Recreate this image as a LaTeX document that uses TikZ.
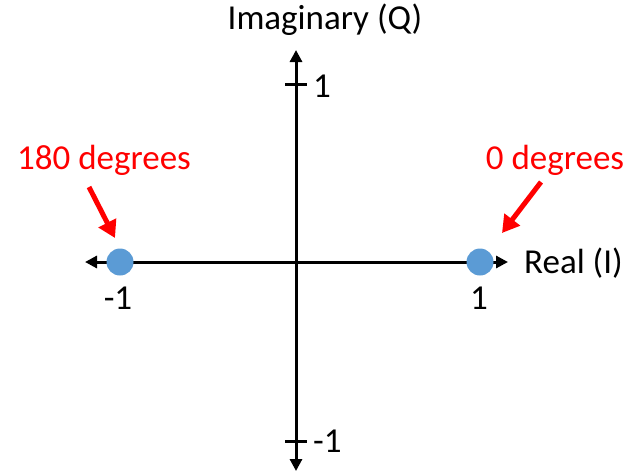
\documentclass[tikz,border=0pt]{standalone}
\usepackage{fontspec}
\setmainfont{Carlito}
\usetikzlibrary{arrows.meta}
\definecolor{dotblue}{HTML}{5B9BD5}
\definecolor{arrred}{HTML}{FF0000}
\begin{document}
\begin{tikzpicture}[x=1pt,y=-1pt,
  axis/.style={line width=3pt,-{Triangle[length=12pt,width=12pt]}},
  tick/.style={line width=3pt},
  lbl/.style={font=\fontsize{35}{40}\selectfont,inner sep=0pt},
  redlbl/.style={lbl,text=arrred},
  redarr/.style={line width=5pt,arrred,-{Triangle[length=17pt,width=19pt]}},
  dot/.style={circle,fill=dotblue,minimum size=27pt,inner sep=0pt}]
\useasboundingbox (0,0) rectangle (628,472);
\coordinate (o) at (296,262);
\coordinate (xl) at (85,262);
\coordinate (xr) at (508,262);
\coordinate (yt) at (296,50);
\coordinate (yb) at (296,471);
\draw[axis] (o) -- (xl);
\draw[axis] (o) -- (xr);
\draw[axis] (o) -- (yt);
\draw[axis] (o) -- (yb);
\coordinate (t1a) at (285,84); \coordinate (t1b) at (307,84);
\coordinate (t2a) at (285,441); \coordinate (t2b) at (307,441);
\draw[tick] (t1a) -- (t1b);
\draw[tick] (t2a) -- (t2b);
\node[dot] (dl) at (120,262) {};
\node[dot] (dr) at (480,262) {};
\node[lbl] (lm1) at (118,298) {-1};
\node[lbl] (lp1) at (479,298) {1};
\node[lbl,anchor=west] (real) at (524,263) {Real (I)};
\node[lbl] (imag) at (325,20) {Imaginary (Q)};
\node[lbl,anchor=west] (q1) at (313,86) {1};
\node[lbl,anchor=west] (qm1) at (313,441) {-1};
\node[redlbl] (d180) at (104,160) {180 degrees};
\node[redlbl] (d0) at (555,160) {0 degrees};
\coordinate (a1s) at (89,187); \coordinate (a1e) at (115,238);
\coordinate (a2s) at (541,182); \coordinate (a2e) at (502,233);
\draw[redarr] (a1s) -- (a1e);
\draw[redarr] (a2s) -- (a2e);
\end{tikzpicture}
\end{document}
